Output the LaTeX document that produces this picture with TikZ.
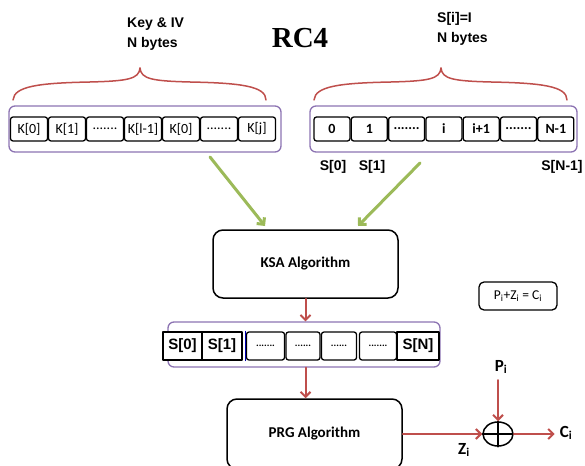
\documentclass[tikz,border=0pt]{standalone}
\usepackage{fontspec}
\setmainfont{Liberation Sans}
\newfontfamily\calfont{Carlito}
\newfontfamily\titlefont{Liberation Serif}
\usetikzlibrary{arrows.meta}
\usetikzlibrary{shapes.geometric}
\newcommand{\celldots}{.......}

\begin{document}
\begin{tikzpicture}[line cap=round,line join=round,>={Straight Barb[length=5pt,width=10pt]},x=1pt,y=-1pt]
\definecolor{redarr}{rgb}{0.75,0.31,0.30}
\definecolor{greenarr}{rgb}{0.61,0.73,0.35}
\definecolor{purplebox}{rgb}{0.55,0.45,0.70}
\tikzset{
  head/.style={font=\bfseries\fontsize{14}{20}\selectfont,align=left,inner sep=0pt},
  arrbox/.style={draw=purplebox,line width=1.3pt,rounded corners=6pt,inner sep=0pt},
  kcell/.style={draw=black,line width=1.3pt,rounded corners=2.5pt,fill=white,minimum width=37pt,minimum height=24pt,inner sep=0pt,font=\calfont\fontsize{14}{14}\selectfont},
  icell/.style={kcell,minimum width=36pt,font=\calfont\bfseries\fontsize{14}{14}\selectfont},
  scell/.style={draw=black,line width=1.3pt,fill=white,minimum height=28pt,inner sep=0pt,font=\bfseries\fontsize{15}{15}\selectfont},
  dcell/.style={scell,rounded corners=2.5pt,font=\calfont\bfseries\fontsize{10}{10}\selectfont},
  algbox/.style={draw=black,line width=1.5pt,rounded corners=10pt,inner sep=0pt,font=\calfont\bfseries\fontsize{15}{15}\selectfont},
  redline/.style={draw=redarr,line width=2pt},
  greenline/.style={draw=greenarr,line width=3pt,->},
  sublabel/.style={font=\calfont\bfseries\fontsize{17}{17}\selectfont,inner sep=1pt}
}
\useasboundingbox (0,0) rectangle (585,465);
\clip (0,0) rectangle (585,465);
% title and headers
\node[font=\titlefont\bfseries\fontsize{29}{29}\selectfont] (title) at (300,38) {RC4};
\node[head,anchor=north west] (keyhead) at (127,18) {Key \& IV\\N bytes};
\node[head,anchor=north west] (shead) at (437,12) {S[i]=I\\N bytes};
% braces
\draw[draw=redarr,line width=1.5pt] (13,100) .. controls (14,86) and (40,83) .. (90,82) .. controls (128,81) and (139,79) .. (140,68);
\draw[draw=redarr,line width=1.5pt] (140,68) .. controls (141,79) and (152,81) .. (190,82) .. controls (240,83) and (266,86) .. (266,100);
\draw[draw=redarr,line width=1.5pt] (314,100) .. controls (315,86) and (341,83) .. (391,82) .. controls (429,81) and (440,79) .. (441,68);
\draw[draw=redarr,line width=1.5pt] (441,68) .. controls (442,79) and (453,81) .. (491,82) .. controls (541,83) and (567,86) .. (567,100);
% key array
\node[arrbox,minimum width=272pt,minimum height=46pt] (karr) at (145,129) {};
\foreach \t [count=\k from 0] in {{K[0]},{K[1]},{\celldots},{K[l-1]},{K[0]},{\celldots},{K[j]}}
  \node[kcell] (k\k) at (29+38*\k,129) {\t};
% state array
\node[arrbox,minimum width=267pt,minimum height=46pt] (sarr) at (443.5,129) {};
\foreach \t [count=\k from 0] in {0,1,{\celldots},i,{i+1},{\celldots},{N-1}}
  \node[icell] (s\k) at (332+37.3*\k,129) {\t};
\node[font=\bfseries\fontsize{14}{14}\selectfont] (slabel0) at (333,167) {S[0]};
\node[font=\bfseries\fontsize{14}{14}\selectfont] (slabel1) at (372,167) {S[1]};
\node[font=\bfseries\fontsize{14}{14}\selectfont] (slabeln) at (562,167) {S[N-1]};
% into KSA
\node[algbox,minimum width=185pt,minimum height=68pt] (ksa) at (305.5,264) {KSA Algorithm};
\coordinate (gla) at (210,157);
\coordinate (glb) at (265,226);
\coordinate (gra) at (420,163);
\coordinate (grb) at (358,226);
\draw[greenline] (gla) -- (glb);
\draw[greenline] (gra) -- (grb);
% permuted state
\node[arrbox,minimum width=272pt,minimum height=45pt] (mid) at (304,344.5) {};
\node[scell,minimum width=39pt] (m0) at (182.5,346) {S[0]};
\node[scell,minimum width=40pt] (m1) at (222,346) {S[1]};
\node[dcell,minimum width=38pt] (m2) at (265.5,346) {\celldots};
\node[dcell,minimum width=34pt] (m3) at (303,346) {......};
\node[dcell,minimum width=35pt] (m4) at (339,346) {......};
\node[dcell,minimum width=37pt] (m5) at (378,346) {\celldots};
\node[scell,minimum width=42pt] (m6) at (418,346) {S[N]};
\draw[draw=blue!70!black,line width=1pt] (m2.north west) -- (m2.south west);
\draw[redline,->] (ksa.south) -- (ksa.south |- mid.north);
% PRG and output
\node[algbox,minimum width=175pt,minimum height=70pt] (prg) at (314.5,434) {PRG Algorithm};
\draw[redline,->] (ksa.south |- mid.south) -- (ksa.south |- prg.north);
\node[draw=black,line width=1.5pt,ellipse,minimum width=30pt,minimum height=24pt,inner sep=0pt] (xor) at (498,434) {};
\draw[line width=1.5pt] (xor.north) -- (xor.south);
\draw[line width=1.5pt] (xor.west) -- (xor.east);
\node[sublabel] (pin) at (501,367) {P\textsubscript{i}};
\node[sublabel] (cout) at (566,433) {C\textsubscript{i}};
\node[sublabel] (zlab) at (464,450) {Z\textsubscript{i}};
\draw[redline,->] (prg.east) -- (xor.west);
\draw[redline,->,shorten <=5pt] (pin.south -| xor.north) -- (xor.north);
\draw[redline,->,shorten >=4pt] (xor.east) -- (xor.east -| cout.west);
% formula
\node[draw=black,line width=1.3pt,rounded corners=5pt,minimum width=78pt,minimum height=28pt,inner sep=0pt,font=\calfont\fontsize{13.5}{13.5}\selectfont] (formula) at (518,296) {P\textsubscript{i}+Z\textsubscript{i} = C\textsubscript{i}};
\end{tikzpicture}
\end{document}
